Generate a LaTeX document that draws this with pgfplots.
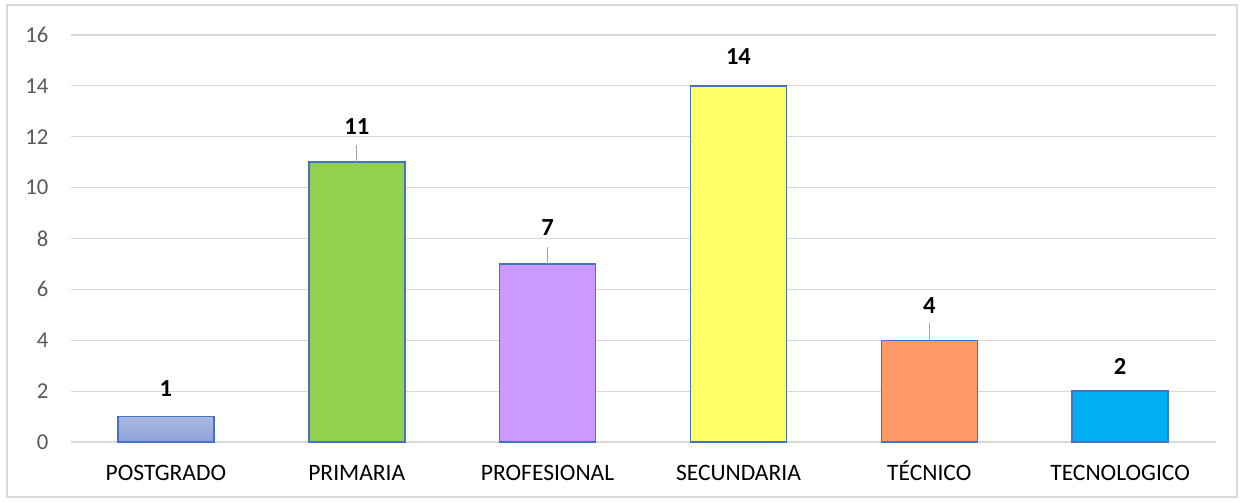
\documentclass[border=0pt]{standalone}
\usepackage{pgfplots}
\pgfplotsset{compat=1.18}
\usepackage{fontspec}
\setmainfont{Carlito}
\definecolor{gridc}{HTML}{D9D9D9}
\definecolor{tickc}{HTML}{595959}
\definecolor{edgec}{HTML}{4472C4}
\definecolor{c1b}{HTML}{8FA2D8}
\definecolor{c1t}{HTML}{ABB9E2}
\definecolor{c2}{HTML}{92D050}
\definecolor{c3}{HTML}{CC99FF}
\definecolor{c4}{HTML}{FFFF66}
\definecolor{c5}{HTML}{FF9966}
\definecolor{c6}{HTML}{00B0F0}
\begin{document}
\begin{tikzpicture}
\begin{axis}[
  scale only axis,
  width=572.5bp, height=203.5bp,
  xmin=-0.5, xmax=5.5, ymin=0, ymax=16,
  ytick={0,2,...,16},
  xtick={0,1,2,3,4,5},
  xticklabels={POSTGRADO,PRIMARIA,PROFESIONAL,SECUNDARIA,TÉCNICO,TECNOLOGICO},
  axis x line=bottom, axis y line=left,
  x axis line style={draw=gridc, line width=0.6bp, -},
  y axis line style={draw=none},
  major tick length=0pt,
  ymajorgrids, grid style={draw=gridc, line width=0.6bp},
  /pgf/number format/assume math mode=true,
  yticklabel style={font=\fontsize{11.4}{13}\selectfont, text=tickc, anchor=east, xshift=-7.5bp},
  xticklabel style={font=\fontsize{11.8}{14}\selectfont, text=black, anchor=base, yshift=-19bp},
  ybar, bar width=48bp, bar shift=0pt,
  nodes near coords,
  every node near coord/.append style={font=\bfseries\fontsize{12.3}{14}\selectfont, text=black, anchor=center},
  clip=false,
]
\addplot[draw=edgec, line width=0.75bp, bottom color=c1b, top color=c1t,
  every node near coord/.append style={yshift=14bp}] coordinates {(0,1)};
\addplot[fill=c2, draw=edgec, line width=0.75bp,
  every node near coord/.append style={yshift=18bp},
  error bars/.cd, y dir=plus, y explicit, error mark=none, error bar style={draw=gray!70, line width=0.6bp}] coordinates {(1,11) +- (0,0.66)};
\addplot[fill=c3, draw=edgec, line width=0.75bp,
  every node near coord/.append style={yshift=18bp},
  error bars/.cd, y dir=plus, y explicit, error mark=none, error bar style={draw=gray!70, line width=0.6bp}] coordinates {(2,7) +- (0,0.66)};
\addplot[fill=c4, draw=edgec, line width=0.75bp,
  every node near coord/.append style={yshift=14.5bp}] coordinates {(3,14)};
\addplot[fill=c5, draw=edgec, line width=0.75bp,
  every node near coord/.append style={yshift=17.5bp},
  error bars/.cd, y dir=plus, y explicit, error mark=none, error bar style={draw=gray!70, line width=0.6bp}] coordinates {(4,4) +- (0,0.66)};
\addplot[fill=c6, draw=edgec, line width=0.75bp,
  every node near coord/.append style={yshift=12.5bp}] coordinates {(5,2)};
\end{axis}
\draw[gridc, line width=0.6bp] ([xshift=-31.75bp,yshift=-27.5bp]current axis.south west) rectangle ([xshift=10.75bp,yshift=15bp]current axis.north east);
\path ([xshift=-35.25bp,yshift=-30bp]current axis.south west) rectangle ([xshift=14.25bp,yshift=17.5bp]current axis.north east);
\end{tikzpicture}
\end{document}
